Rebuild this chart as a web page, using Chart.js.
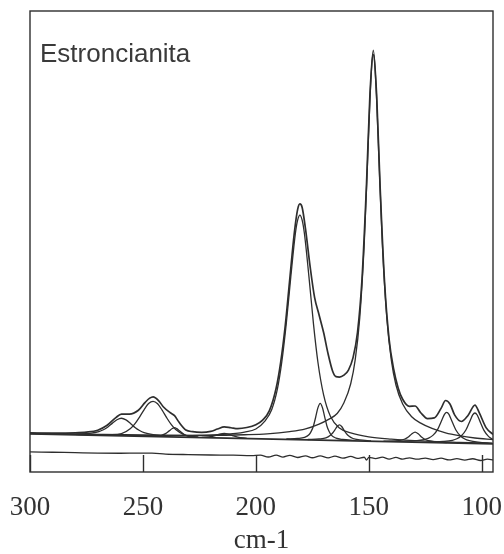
<!DOCTYPE html>
<html>
<head>
<meta charset="utf-8">
<title>Estroncianita</title>
<script src="https://cdn.jsdelivr.net/npm/chart.js@4.4.0/dist/chart.umd.min.js"></script>
<style>
    html, body { margin: 0; padding: 0; background: #fff; }
    #wrap { position: relative; width: 504px; height: 554px; }
</style>
</head>
<body>
<div id="wrap"><canvas id="myChart"></canvas></div>
<script>
// Raman shift (cm-1) vs intensity
var xTicks = [300, 250, 200, 150, 100];

// measured spectrum (sum of the fit)
var sumX = [300, 290, 280, 275, 270, 266, 262, 259.5, 256, 252, 249, 247, 245.5, 243, 241, 238, 236, 234, 231, 228,
    224, 220, 217, 214, 211, 208, 204, 200, 197, 194, 191, 189, 187, 185, 183, 181.5, 180.5, 179.5, 178, 176,
    174, 172, 170, 168, 166, 164.5, 163, 161, 159, 157, 155, 153, 151, 149.5, 148, 146.5, 145, 143, 141, 139,
    137, 135, 132, 129.5, 127, 124, 121, 118, 116, 114, 112, 109, 106, 103, 101, 98, 95];
var sumY = [2.8, 2.77, 2.83, 3.0, 3.5, 4.69, 6.73, 7.62, 7.61, 8.6, 10.62, 11.7, 12.05, 11.03, 9.51, 8.02, 7.23, 5.51, 3.56, 3.12,
    2.96, 3.2, 3.8, 4.36, 4.13, 3.91, 4.19, 4.91, 6.08, 8.49, 14.3, 20.93, 30.15, 42.07, 53.85, 60.03, 61.42, 60.51, 54.97, 45.5,
    37.5, 33.0, 28.5, 23.0, 18.6, 17.2, 17.1, 17.6, 18.9, 22.0, 28.5, 42.13, 66.55, 89.2, 100.75, 88.95, 66.03, 41.24, 26.77, 19.16,
    14.33, 11.43, 9.61, 9.69, 7.97, 6.47, 6.64, 9.09, 11.1, 10.15, 7.43, 5.73, 7.33, 9.92, 7.86, 4.09, 2.43];

// baseline of the fit
var baseX = [300, 95];
var baseY = [2.56, 0];

// fitted bands
var bandAX = [279.5, 273.5, 269.5, 267.5, 265.5, 263.5, 261.5, 259.5, 257.5, 255.5, 253.5, 251.5, 249.5, 245.5, 239.5];
var bandAY = [2.51, 2.71, 3.13, 3.61, 4.33, 5.31, 6.18, 6.56, 6.13, 5.21, 4.18, 3.41, 2.88, 2.36, 2.01];

var bandBX = [265.5, 259.5, 255.5, 253.5, 251.5, 249.5, 247.5, 245.5, 243.5, 241.5, 239.5, 237.5, 235.5, 231.5, 225.5];
var bandBY = [2.28, 2.61, 3.91, 5.18, 6.86, 8.73, 10.31, 10.88, 10.26, 8.63, 6.71, 4.98, 3.66, 2.26, 1.78];

var bandCX = [246, 242, 240, 238.5, 237, 236, 235, 233.5, 232, 230, 226];
var bandCY = [1.96, 2.14, 2.61, 3.26, 3.93, 4.16, 3.9, 3.2, 2.51, 1.99, 1.71];

var bandDX = [224, 220, 218, 216, 214, 212, 210, 208, 204];
var bandDY = [1.68, 1.86, 2.14, 2.51, 2.69, 2.46, 2.04, 1.71, 1.43];

var bandEX = [300, 280, 260, 240, 225, 215, 205, 200, 196, 193, 190.5, 188.5, 186.5, 184.5, 182.5, 181.5, 180.5, 179.5, 178.5, 176.5,
    174.5, 172.5, 170, 167, 163, 158, 150, 140, 125, 110, 95];
var bandEY = [2.63, 2.41, 2.22, 2.1, 2.18, 2.4, 3.03, 3.81, 5.81, 8.73, 13.94, 21.03, 30.94, 42.92, 53.89, 57.28, 58.57, 57.26, 53.84, 42.82,
    30.79, 20.83, 12.54, 7.07, 4.05, 2.79, 1.77, 1.2, 0.71, 0.4, 0.14];

var bandFX = [186.5, 181.5, 178.5, 176.5, 175.5, 174.5, 173.5, 172.5, 171.5, 170.5, 169.5, 168.5, 167.5, 166.5, 164.5, 161.5, 156.5];
var bandFY = [1.26, 1.38, 1.64, 2.32, 3.21, 4.59, 6.88, 9.27, 10.36, 9.24, 6.83, 4.52, 3.11, 2.19, 1.47, 1.13, 0.89];

var bandGX = [177, 172, 169, 167, 166, 165, 164, 163, 162, 161, 160, 159, 157, 154, 149];
var bandGY = [1.12, 1.26, 1.52, 2.2, 2.79, 3.58, 4.46, 4.85, 4.44, 3.53, 2.71, 2.1, 1.38, 1.04, 0.78];

var bandHX = [300, 270, 240, 220, 205, 195, 185, 178, 172, 168, 164, 161, 158, 156, 154, 152, 150.5, 149.5, 148.5, 148,
    147.5, 146.5, 145.5, 144, 142, 140, 138, 135, 131, 127, 122, 116, 110, 103, 95];
var bandHY = [2.73, 2.44, 2.22, 2.18, 2.33, 2.55, 3.13, 3.84, 5.06, 6.21, 7.76, 10.53, 15.39, 21.56, 32.24, 51.41, 72.9, 87.98, 98.17, 99.66,
    98.16, 87.94, 72.83, 51.31, 32.09, 21.36, 15.14, 10.2, 6.95, 5.3, 3.94, 2.81, 2.09, 1.5, 1.07];

var bandIX = [143.5, 138.5, 135.5, 134, 132.5, 131, 129.5, 128, 126.5, 125, 123.5, 120.5, 115.5];
var bandIY = [0.69, 0.74, 0.96, 1.24, 1.77, 2.55, 3.03, 2.51, 1.69, 1.13, 0.81, 0.52, 0.34];

var bandJX = [135.5, 129.5, 125.5, 123.5, 121.5, 119.5, 117.5, 116.5, 115.5, 114.5, 113.5, 111.5, 109.5, 107.5, 105.5, 101.5, 95.5];
var bandJY = [0.66, 0.78, 1.08, 1.46, 2.23, 3.71, 6.28, 7.57, 8.06, 7.54, 6.23, 3.61, 2.08, 1.26, 0.83, 0.43, 0.16];

var bandKX = [123, 117, 113, 111, 109, 107, 105, 104, 103, 102, 101, 99, 97, 95];
var bandKY = [0.5, 0.63, 0.92, 1.3, 2.08, 3.55, 6.13, 7.41, 7.9, 7.39, 6.08, 3.45, 1.93, 1.1];

// residual trace (lower strip)
var resX = [300, 290, 280, 270, 260, 252, 246, 240, 230, 220, 210, 202, 198, 194.5, 191, 188, 185, 181.5, 178, 175,
    171.5, 168, 165, 161.5, 158, 155, 152, 151, 150, 147, 144, 141, 138, 135, 132, 128.5, 125, 121.5, 118, 114.5,
    111, 107.5, 104, 100.5, 97.5, 95];
var resY = [-2.05, -2.15, -2.25, -2.35, -2.4, -2.38, -2.39, -2.6, -2.75, -2.85, -2.9, -3.03, -2.87, -3.36, -2.89, -3.37, -2.95, -3.49, -3.07, -3.55,
    -3.09, -3.57, -3.15, -3.64, -3.22, -3.7, -3.43, -4.14, -3.45, -3.78, -3.41, -3.89, -3.47, -3.9, -3.58, -3.92, -3.65, -4.04, -3.67, -4.11,
    -3.79, -4.18, -3.81, -4.25, -3.93, -4.1];

var ink = '#2e2e2e';

function pts(xs, ys) {
    return xs.map(function (x, i) { return { x: x, y: ys[i] }; });
}

function line(label, xs, ys, width) {
    return {
        label: label,
        data: pts(xs, ys),
        borderColor: ink,
        borderWidth: width,
        pointRadius: 0,
        fill: false,
        cubicInterpolationMode: 'monotone'
    };
}

// box around the plot, inner tick marks along the bottom, sample name
var framePlugin = {
    id: 'frame',
    afterDatasetsDraw: function (chart) {
        var c = chart.ctx, a = chart.chartArea, xs = chart.scales.x;
        c.save();
        c.strokeStyle = ink;
        c.lineWidth = 1.4;
        c.strokeRect(a.left, a.top, a.right - a.left, a.bottom - a.top);
        xTicks.forEach(function (v) {
            var px = Math.round(xs.getPixelForValue(v)) + 0.5;
            c.beginPath();
            c.moveTo(px, a.bottom);
            c.lineTo(px, a.bottom - 17);
            c.stroke();
        });
        c.fillStyle = '#3a3a3a';
        c.font = '26px "Liberation Sans", Arial, sans-serif';
        c.textBaseline = 'alphabetic';
        c.fillText('Estroncianita', a.left + 10, a.top + 51);
        c.restore();
    }
};

var ctx = document.getElementById('myChart').getContext('2d');
var myChart = new Chart(ctx, {
    type: 'line',
    data: {
        datasets: [
            line('Residuo', resX, resY, 1.3),
            line('Linea base', baseX, baseY, 1.7),
            line('Banda 260', bandAX, bandAY, 1.3),
            line('Banda 245', bandBX, bandBY, 1.3),
            line('Banda 236', bandCX, bandCY, 1.3),
            line('Banda 214', bandDX, bandDY, 1.3),
            line('Banda 180', bandEX, bandEY, 1.3),
            line('Banda 172', bandFX, bandFY, 1.3),
            line('Banda 163', bandGX, bandGY, 1.3),
            line('Banda 148', bandHX, bandHY, 1.3),
            line('Banda 130', bandIX, bandIY, 1.3),
            line('Banda 116', bandJX, bandJY, 1.3),
            line('Banda 103', bandKX, bandKY, 1.3),
            line('Espectro', sumX, sumY, 1.7)
        ]
    },
    options: {
        responsive: true,
        maintainAspectRatio: false,
        animation: false,
        layout: { padding: { left: 30, right: 11, top: 11, bottom: 0 } },
        plugins: {
            legend: { display: false },
            tooltip: { enabled: false }
        },
        scales: {
            x: {
                type: 'linear',
                reverse: true,
                min: 95,
                max: 300,
                afterBuildTicks: function (scale) {
                    scale.ticks = xTicks.map(function (v) { return { value: v }; });
                },
                afterFit: function (scale) {
                    scale.height = 82;
                    scale.paddingLeft = 0;
                    scale.paddingRight = 0;
                },
                grid: { display: false, drawTicks: false },
                border: { display: false },
                ticks: {
                    padding: 20,
                    autoSkip: false,
                    maxRotation: 0,
                    color: '#333',
                    font: { family: 'Liberation Serif', size: 27 }
                },
                title: {
                    display: true,
                    text: 'cm-1',
                    color: '#333',
                    font: { family: 'Liberation Serif', size: 27 },
                    padding: { top: 0, bottom: -3 }
                }
            },
            y: {
                display: false,
                min: -7.2,
                max: 110.8
            }
        }
    },
    plugins: [framePlugin]
});
</script>
</body>
</html>
